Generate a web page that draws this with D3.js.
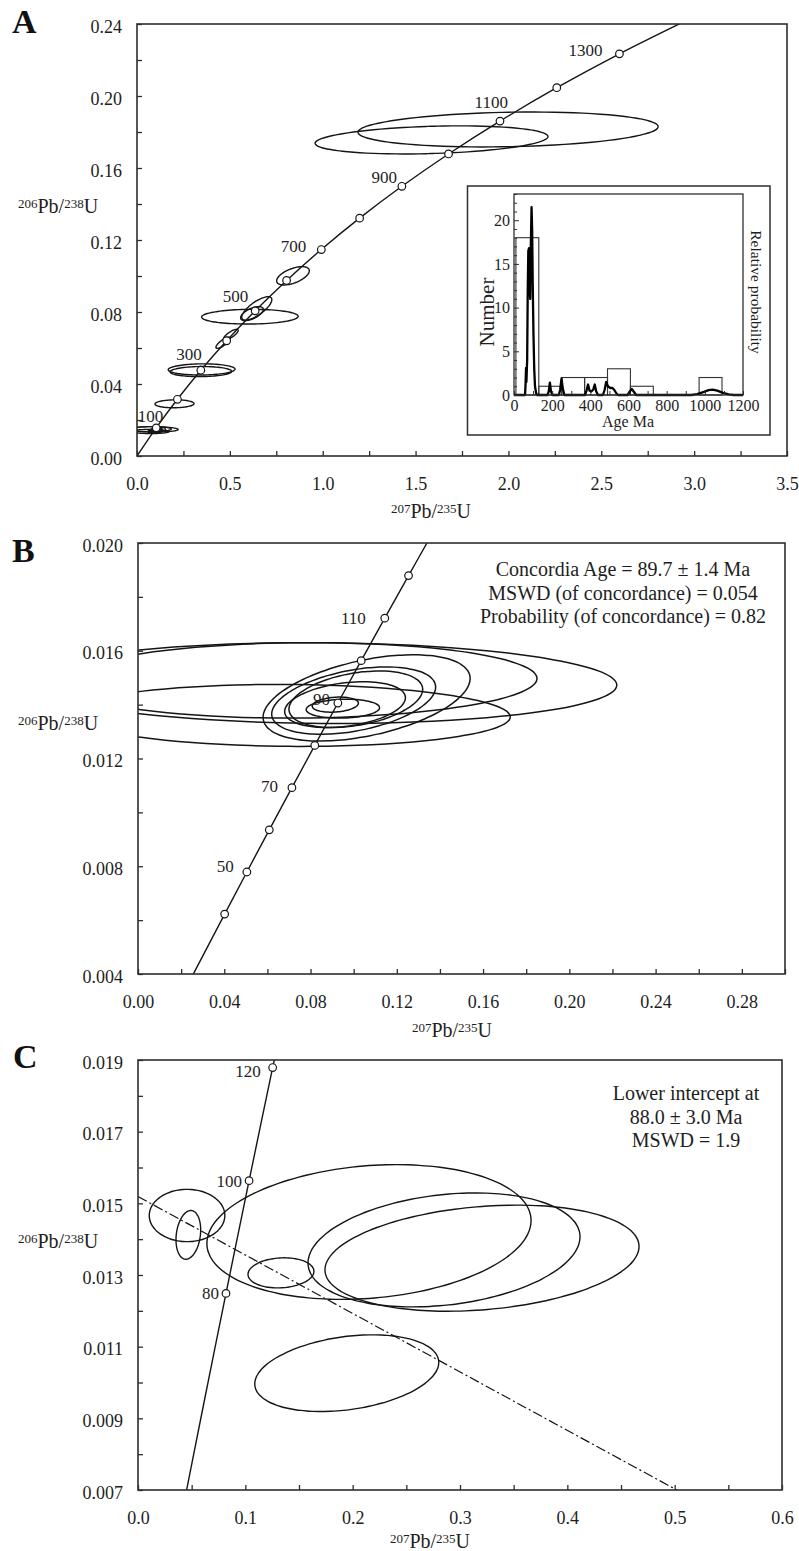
<!DOCTYPE html>
<html><head><meta charset="utf-8">
<script src="https://cdn.jsdelivr.net/npm/d3@7"></script>
<style>
body{margin:0;background:#fff;}
svg{display:block;font-family:"Liberation Serif","Times New Roman",serif;}
</style></head><body>
<svg id="c" width="799" height="1551"></svg>
<script>
// ================= DATA =================
// Concordia points (age Ma, 207Pb/235U, 206Pb/238U)
const concOldAges = [0,100,200,300,400,500,600,700,800,900,1000,1100,1200,1300,1400];
const concOldX = [0,0.1035,0.2177,0.3437,0.4828,0.6363,0.8056,0.9925,1.1987,1.4263,1.6774,1.9545,2.2603,2.5977,2.9701];
const concOldY = [0,0.01563,0.03151,0.04764,0.06402,0.08065,0.09754,0.11470,0.13213,0.14983,0.16780,0.18606,0.20460,0.22343,0.24256];
const concYoungAges = [20,30,40,50,60,70,80,90,100,110,120,130];
const concYoungX = [0.019892,0.029986,0.040180,0.050475,0.060872,0.071371,0.081975,0.092683,0.10350,0.11442,0.12545,0.13659];
const concYoungY = [0.0031073,0.0046646,0.0062243,0.0077864,0.0093509,0.010918,0.012487,0.014059,0.015633,0.017210,0.018789,0.020371];

const markersA = [100,200,300,400,500,600,700,800,900,1000,1100,1200,1300];
const labelsA = [100,300,500,700,900,1100,1300];
const markersB = [40,50,60,70,80,90,100,110,120];
const labelsB = [50,70,90,110];
const markersC = [80,100,120];
const labelsC = [80,100,120];

// Error ellipses: [center 207/235, center 206/238, half-width x, half-height y, correlation]
const ellipsesA = [
  [1.998,0.1814,0.808,0.0097,0.16],
  [1.586,0.1756,0.627,0.0078,0.24],
  [0.840,0.1001,0.088,0.0051,0.55],
  [0.645,0.0820,0.081,0.0065,0.75],
  [0.619,0.0791,0.061,0.0039,0.60],
  [0.608,0.0774,0.260,0.0041,0.05],
  [0.463,0.0629,0.038,0.0031,0.80],
  [0.505,0.0674,0.040,0.0030,0.80],
  [0.348,0.0481,0.180,0.0031,0.05],
  [0.344,0.0469,0.166,0.0028,0.05],
  [0.202,0.0290,0.105,0.0022,0.05]
];
const ellipsesB = [
  [0.085,0.01480,0.137,0.00150,-0.05],
  [0.075,0.01490,0.110,0.00140,0.05],
  [0.070,0.01360,0.1026,0.00115,-0.05],
  [0.106,0.01425,0.048,0.00160,0.45],
  [0.100,0.01415,0.038,0.00125,0.40],
  [0.101,0.01420,0.031,0.00105,0.35],
  [0.096,0.01400,0.028,0.00085,0.30],
  [0.0915,0.01400,0.0107,0.00028,0.20],
  [0.095,0.01385,0.017,0.00035,0.10]
];
const ellipsesC = [
  [0.0457,0.01466,0.0352,0.00073,0.0],
  [0.0469,0.01412,0.0115,0.00068,0.2],
  [0.2152,0.01420,0.151,0.00188,0.17],
  [0.1332,0.01306,0.0307,0.00042,0.1],
  [0.2851,0.01370,0.1267,0.00159,0.23],
  [0.3205,0.01347,0.1463,0.00148,0.22],
  [0.1945,0.01026,0.0857,0.00107,0.28]
];
const discordiaC = [[0,0.01519],[0.502,0.0070]];

// Tick labels
const xLabelsA = ["0.0","0.5","1.0","1.5","2.0","2.5","3.0","3.5"];
const yLabelsA = ["0.00","0.04","0.08","0.12","0.16","0.20","0.24"];
const xLabelsB = ["0.00","0.04","0.08","0.12","0.16","0.20","0.24","0.28"];
const yLabelsB = ["0.004","0.008","0.012","0.016","0.020"];
const xLabelsC = ["0.0","0.1","0.2","0.3","0.4","0.5","0.6"];
const yLabelsC = ["0.007","0.009","0.011","0.013","0.015","0.017","0.019"];

// Inset histogram
const binStarts = [10,130,250,370,490,610,730,850,970];
const binCounts = [18,1,2,2,3,1,0,0,2];
const binWidth = 120;
const probCurve = [[0,0],[58,0],[61,1.5],[63,3.1],[65,1.5],[69,4],[72,12],[75,16.5],[79,16.8],[82,12],[85,11],[88,17],[92,21.5],[95,19],[98,13],[102,7],[106,3],[110,1],[116,0.2],[122,0],
  [175,0],[182,0.4],[188,1.4],[194,0.4],[202,0],
  [235,0],[242,0.6],[249,1.9],[256,0.7],[264,0],
  [372,0],[380,0.5],[388,1.2],[396,0.5],[405,0.4],[415,0.6],[423,1.2],[431,0.4],[440,0],
  [466,0],[475,0.6],[483,1.5],[492,1.0],[505,0.8],[516,0.8],[525,0.6],[536,0.2],[545,0],
  [595,0],[607,0.4],[617,0.7],[627,0.4],[640,0],
  [930,0],[960,0.1],[995,0.35],[1020,0.55],[1040,0.62],[1065,0.5],[1095,0.25],[1125,0.07],[1150,0],[1200,0]];
const histYLabels = ["0","5","10","15","20"];
const histXLabels = ["0","200","400","600","800","1000","1200"];

// ================= DRAWING =================
const svg = d3.select("#c");
const INK = "#151515", FRAME = "#2e2e2e";

function makePanel(id, box, xd, yd){
  const x = d3.scaleLinear().domain(xd).range([box.l, box.r]);
  const y = d3.scaleLinear().domain(yd).range([box.b, box.t]);
  svg.append("clipPath").attr("id","clip"+id).append("rect")
    .attr("x",box.l).attr("y",box.t).attr("width",box.r-box.l).attr("height",box.b-box.t);
  const g = svg.append("g");
  const plot = g.append("g").attr("clip-path",`url(#clip${id})`);
  return {x,y,g,plot,box};
}

function frame(P){
  const b=P.box;
  P.g.append("rect").attr("x",b.l).attr("y",b.t).attr("width",b.r-b.l).attr("height",b.b-b.t)
    .attr("fill","none").attr("stroke",FRAME).attr("stroke-width",1.6);
}

function axes(P, xLabels, xStep, yLabels, yStep){
  const {x,y,g,box} = P;
  const xl = xLabels.map(Number), yl = yLabels.map(Number);
  const xd = x.domain(), yd = y.domain();
  const xt = d3.range(Math.round((xd[1]-xd[0])/xStep)+1).map(i=>+(xd[0]+i*xStep).toFixed(6));
  const yt = d3.range(Math.round((yd[1]-yd[0])/yStep)+1).map(i=>+(yd[0]+i*yStep).toFixed(6));
  const fx = d=>{const k=xl.findIndex(v=>Math.abs(v-d)<1e-9); return k<0?"":xLabels[k];};
  const fy = d=>{const k=yl.findIndex(v=>Math.abs(v-d)<1e-9); return k<0?"":yLabels[k];};
  const gx = g.append("g").attr("transform",`translate(0,${box.b})`)
    .call(d3.axisBottom(x).tickValues(xt).tickSize(-5).tickSizeOuter(0).tickPadding(21).tickFormat(fx));
  const gy = g.append("g").attr("transform",`translate(${box.l},0)`)
    .call(d3.axisLeft(y).tickValues(yt).tickSize(-5).tickSizeOuter(0).tickPadding(15).tickFormat(fy));
  [gx,gy].forEach(s=>{
    s.select(".domain").remove();
    s.attr("font-family",null).attr("font-size",18);
    s.selectAll("line").attr("stroke",FRAME).attr("stroke-width",1.3);
    s.selectAll("text").attr("fill","#1e1e1e");
  });
  gy.selectAll("text").attr("dy","0.45em");
}

function isoTitle(g, xpos, ypos, anchor, m1, e1, m2, e2){
  const t = g.append("text").attr("x",xpos).attr("y",ypos).attr("text-anchor",anchor).attr("fill","#1e1e1e");
  t.append("tspan").attr("font-size",13).attr("dy",-5).text(m1);
  t.append("tspan").attr("font-size",20).attr("dy",5).text(e1);
  t.append("tspan").attr("font-size",13).attr("dy",-5).text(m2);
  t.append("tspan").attr("font-size",20).attr("dy",5).text(e2);
}

function ellipsePts(e){
  const [cx,cy,sx,sy,r]=e, k=Math.sqrt(1-r*r);
  return d3.range(0,360,4).map(a=>{const t=a*Math.PI/180;
    return [cx+sx*Math.cos(t), cy+sy*(r*Math.cos(t)+k*Math.sin(t))];});
}
function drawEllipses(P, list, sw){
  const line = d3.line().x(d=>P.x(d[0])).y(d=>P.y(d[1])).curve(d3.curveCardinalClosed);
  P.plot.selectAll(null).data(list).enter().append("path")
    .attr("d",d=>line(ellipsePts(d))).attr("fill","none").attr("stroke",INK).attr("stroke-width",sw);
}
function drawConcordia(P, ages, xs, ys, markers, labels, offs){
  const pts = ages.map((a,i)=>({a,x:xs[i],y:ys[i]}));
  const line = d3.line().x(d=>P.x(d.x)).y(d=>P.y(d.y)).curve(d3.curveCatmullRom);
  P.plot.append("path").attr("d",line(pts)).attr("fill","none").attr("stroke",INK).attr("stroke-width",1.4);
  const mk = pts.filter(d=>markers.includes(d.a));
  P.plot.selectAll(null).data(mk).enter().append("circle")
    .attr("cx",d=>P.x(d.x)).attr("cy",d=>P.y(d.y)).attr("r",3.8)
    .attr("fill","#fff").attr("stroke",INK).attr("stroke-width",1.2);
  P.g.selectAll(null).data(pts.filter(d=>labels.includes(d.a))).enter().append("text")
    .attr("x",d=>P.x(d.x)+offs[d.a][0]).attr("y",d=>P.y(d.y)+offs[d.a][1])
    .attr("text-anchor","end").attr("font-size",17).attr("fill","#1e1e1e").text(d=>d.a);
}
function panelLetter(txt, xp, yp){
  svg.append("text").attr("x",xp).attr("y",yp).attr("font-size",34).attr("font-weight","bold")
    .attr("fill","#111").text(txt);
}

// ---------- Panel A ----------
const A = makePanel("A",{l:137,r:787,t:24,b:456},[0,3.5],[0,0.24]);
drawEllipses(A, ellipsesB, 1.3);
drawEllipses(A, ellipsesA, 1.4);
drawConcordia(A, concOldAges, concOldX, concOldY, markersA, labelsA,
  {100:[7,-6],300:[1,-10],500:[-7,-9],700:[-15,2],900:[-5,-3],1100:[8,-13],1300:[-17,2]});
frame(A);
axes(A, xLabelsA, 0.25, yLabelsA, 0.02);
isoTitle(A.g, 18, 213, "start", "206","Pb/","238","U");
isoTitle(A.g, 431, 518, "middle", "207","Pb/","235","U");
panelLetter("A", 12, 33);

// Inset
const ins = A.g.append("g");
ins.append("rect").attr("x",467.5).attr("y",186).attr("width",302.5).attr("height",249)
  .attr("fill","#fff").attr("stroke",FRAME).attr("stroke-width",1.5);
const hx = d3.scaleLinear().domain([0,1200]).range([514,743]);
const hy = d3.scaleLinear().domain([0,23]).range([395,194]);
ins.selectAll(null).data(binStarts.map((s,i)=>({s,c:binCounts[i]})).filter(d=>d.c>0)).enter().append("rect")
  .attr("x",d=>hx(d.s)).attr("width",d=>hx(d.s+binWidth)-hx(d.s))
  .attr("y",d=>hy(d.c)).attr("height",d=>hy(0)-hy(d.c))
  .attr("fill","none").attr("stroke","#333").attr("stroke-width",1.1);
ins.append("path").attr("d",d3.line().x(d=>hx(d[0])).y(d=>hy(d[1]))(probCurve))
  .attr("fill","none").attr("stroke","#000").attr("stroke-width",2.3).attr("stroke-linejoin","round");
ins.append("rect").attr("x",514).attr("y",194).attr("width",229).attr("height",201)
  .attr("fill","none").attr("stroke",FRAME).attr("stroke-width",1.3);
const hxa = ins.append("g").attr("transform","translate(0,395)")
  .call(d3.axisBottom(hx).tickValues(d3.range(0,1201,100)).tickSize(-4).tickSizeOuter(0).tickPadding(5)
    .tickFormat(d=>histXLabels.includes(String(d))?String(d):""));
const hya = ins.append("g").attr("transform","translate(514,0)")
  .call(d3.axisLeft(hy).tickValues(d3.range(0,24,1)).tickSize(-3).tickSizeOuter(0).tickPadding(4)
    .tickFormat(d=>histYLabels.includes(String(d))?String(d):""));
[hxa,hya].forEach(s=>{s.select(".domain").remove(); s.attr("font-family",null).attr("font-size",16);
  s.selectAll("line").attr("stroke",FRAME); s.selectAll("text").attr("fill","#1e1e1e");});
hya.selectAll(".tick").filter(d=>d%5===0).select("line").attr("x2",5);
ins.append("text").attr("x",628).attr("y",427).attr("text-anchor","middle").attr("font-size",16).attr("fill","#1e1e1e").text("Age Ma");
ins.append("text").attr("transform","translate(494,312) rotate(-90)").attr("text-anchor","middle").attr("font-size",21).attr("fill","#1e1e1e").text("Number");
ins.append("text").attr("transform","translate(751,292) rotate(90)").attr("text-anchor","middle").attr("font-size",15.5).attr("fill","#1e1e1e").text("Relative probability");

// ---------- Panel B ----------
const B = makePanel("B",{l:138,r:785,t:543,b:974},[0,0.30],[0.004,0.020]);
drawEllipses(B, ellipsesB, 1.5);
drawConcordia(B, concYoungAges, concYoungX, concYoungY, markersB, labelsB,
  {50:[-13,0],70:[-14,4],90:[-8,2],110:[-19,6]});
frame(B);
axes(B, xLabelsB, 0.02, yLabelsB, 0.002);
isoTitle(B.g, 18, 730, "start", "206","Pb/","238","U");
isoTitle(B.g, 452, 1037, "middle", "207","Pb/","235","U");
panelLetter("B", 12, 562);
B.g.selectAll(null).data(["Concordia Age = 89.7 \u00b1 1.4 Ma","MSWD (of concordance) = 0.054","Probability (of concordance) = 0.82"])
  .enter().append("text").attr("x",623).attr("y",(d,i)=>576+i*23.7).attr("text-anchor","middle")
  .attr("font-size",20).attr("fill","#1e1e1e").text(d=>d);

// ---------- Panel C ----------
const C = makePanel("C",{l:138,r:782,t:1060,b:1490},[0,0.6],[0.007,0.019]);
drawEllipses(C, ellipsesC, 1.4);
C.plot.append("path").attr("d",d3.line().x(d=>C.x(d[0])).y(d=>C.y(d[1]))(discordiaC))
  .attr("fill","none").attr("stroke",INK).attr("stroke-width",1.2).attr("stroke-dasharray","10,3,2,3");
drawConcordia(C, concYoungAges, concYoungX, concYoungY, markersC, labelsC,
  {80:[-7,6],100:[-7,6],120:[-12,9]});
frame(C);
axes(C, xLabelsC, 0.05, yLabelsC, 0.001);
isoTitle(C.g, 18, 1248, "start", "206","Pb/","238","U");
isoTitle(C.g, 430, 1548, "middle", "207","Pb/","235","U");
panelLetter("C", 13, 1068);
C.g.selectAll(null).data(["Lower intercept at","88.0 \u00b1 3.0 Ma","MSWD = 1.9"])
  .enter().append("text").attr("x",686).attr("y",(d,i)=>1100+i*23.5).attr("text-anchor","middle")
  .attr("font-size",20).attr("fill","#1e1e1e").text(d=>d);
</script>
</body></html>
